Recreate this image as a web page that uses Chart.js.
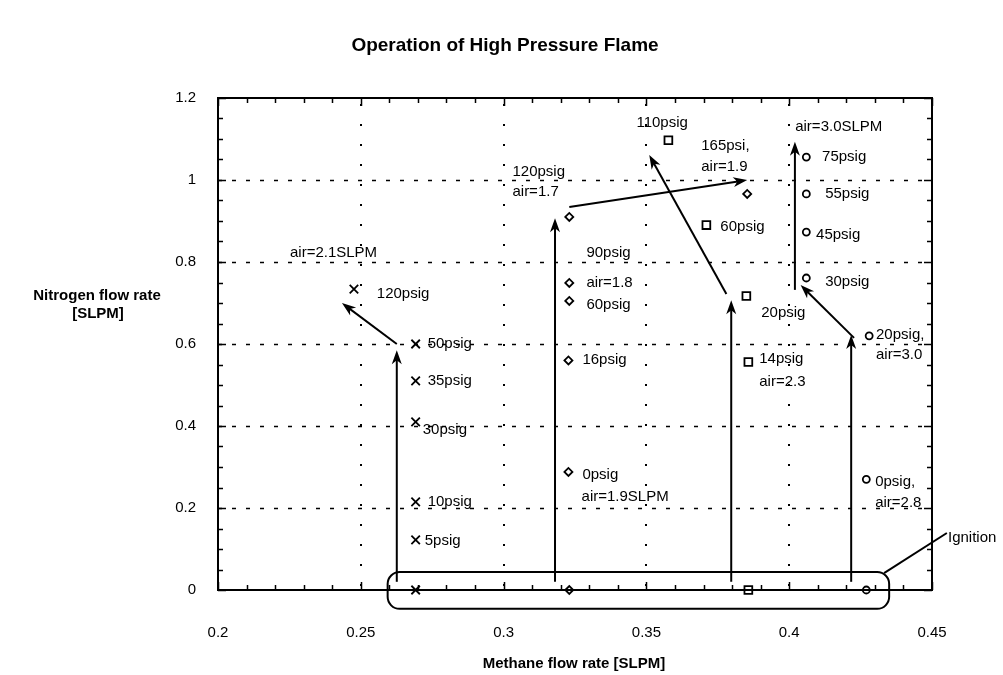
<!DOCTYPE html>
<html>
<head>
<meta charset="utf-8">
<title>Operation of High Pressure Flame</title>
<script src="https://cdn.jsdelivr.net/npm/chart.js@4/dist/chart.umd.min.js"></script>
<style>
  html, body { margin: 0; padding: 0; background: #fff; }
  #wrap { width: 1003px; height: 675px; position: relative; }
</style>
</head>
<body>
<div id="wrap"><canvas id="chartFlame"></canvas></div>
<script>
// axis ticks
const xTicks = [0.2, 0.25, 0.3, 0.35, 0.4, 0.45];
const yTicks = [0, 0.2, 0.4, 0.6, 0.8, 1, 1.2];

// air = 2.1 SLPM (x markers)
const crossX = [0.2476, 0.2692, 0.2692, 0.2692, 0.2692, 0.2692, 0.2692];
const crossY = [0.734, 0.600, 0.510, 0.410, 0.215, 0.122, 0];

// diamonds
const diamondX = [0.3230, 0.3230, 0.3230, 0.3227, 0.3227, 0.3230, 0.3853];
const diamondY = [0.910, 0.749, 0.705, 0.560, 0.288, 0, 0.966];

// squares
const squareX = [0.3577, 0.3710, 0.3850, 0.3857, 0.3857];
const squareY = [1.097, 0.890, 0.717, 0.556, 0];

// circles
const circleX = [0.4060, 0.4060, 0.4060, 0.4060, 0.4280, 0.4270, 0.4270];
const circleY = [1.056, 0.966, 0.873, 0.761, 0.620, 0.270, 0];

// arrows: [x1, y1, x2, y2] in data units, head at the second point
const arrows = [
  [0.2626, 0.02, 0.2626, 0.585],
  [0.2626, 0.600, 0.2434, 0.700],
  [0.3180, 0.02, 0.3180, 0.907],
  [0.3230, 0.934, 0.3853, 1.000],
  [0.3797, 0.02, 0.3797, 0.707],
  [0.3780, 0.722, 0.3510, 1.061],
  [0.4217, 0.02, 0.4217, 0.622],
  [0.4227, 0.615, 0.4040, 0.744],
  [0.4020, 0.732, 0.4020, 1.093]
];

// text notes: [text, x, y] (left edge, middle) in data units
const notes = [
  ['air=2.1SLPM', 0.2252, 0.822],
  ['120psig', 0.2556, 0.722],
  ['50psig', 0.2734, 0.600],
  ['35psig', 0.2734, 0.510],
  ['30psig', 0.2717, 0.390],
  ['10psig', 0.2734, 0.215],
  ['5psig', 0.2724, 0.120],
  ['120psig', 0.3031, 1.020],
  ['air=1.7', 0.3031, 0.971],
  ['90psig', 0.3290, 0.822],
  ['air=1.8', 0.3290, 0.749],
  ['60psig', 0.3290, 0.695],
  ['16psig', 0.3276, 0.561],
  ['0psig', 0.3276, 0.280],
  ['air=1.9SLPM', 0.3273, 0.227],
  ['110psig', 0.3465, 1.139],
  ['165psi,', 0.3692, 1.083],
  ['air=1.9', 0.3692, 1.032],
  ['60psig', 0.3759, 0.885],
  ['20psig', 0.3902, 0.676],
  ['14psig', 0.3895, 0.563],
  ['air=2.3', 0.3895, 0.507],
  ['air=3.0SLPM', 0.4021, 1.129],
  ['75psig', 0.4115, 1.056],
  ['55psig', 0.4126, 0.966],
  ['45psig', 0.4094, 0.866],
  ['30psig', 0.4126, 0.751],
  ['20psig,', 0.4304, 0.622],
  ['air=3.0', 0.4304, 0.573],
  ['0psig,', 0.4301, 0.263],
  ['air=2.8', 0.4301, 0.212],
  ['Ignition', 0.4556, 0.127]
];

// ignition box [xMin, yMax, xMax, yMin] and its callout line
const ignitionBox = [0.2594, 0.044, 0.4350, -0.046];
const ignitionLine = [0.4332, 0.041, 0.4552, 0.139];

const FONT = '"Liberation Sans", Arial, sans-serif';

function pts(xs, ys) {
  return xs.map((x, i) => ({ x: x, y: ys[i] }));
}

function drawArrow(ctx, x1, y1, x2, y2) {
  const a = Math.atan2(y2 - y1, x2 - x1);
  const len = 14, half = 5;
  ctx.beginPath();
  ctx.moveTo(x1, y1);
  ctx.lineTo(x2 - Math.cos(a) * 6, y2 - Math.sin(a) * 6);
  ctx.stroke();
  ctx.save();
  ctx.translate(x2, y2);
  ctx.rotate(a);
  ctx.beginPath();
  ctx.moveTo(0, 0);
  ctx.lineTo(-len, -half);
  ctx.lineTo(-len + 4, 0);
  ctx.lineTo(-len, half);
  ctx.closePath();
  ctx.fill();
  ctx.restore();
}

// frame, dotted grid and inward ticks
const framePlugin = {
  id: 'frame',
  beforeDatasetsDraw(chart) {
    const { ctx, chartArea: a, scales: { x, y } } = chart;
    ctx.save();
    ctx.strokeStyle = '#000';

    // horizontal grid, dashed
    ctx.lineWidth = 1.5;
    ctx.setLineDash([4, 10]);
    yTicks.slice(1, -1).forEach(v => {
      const py = Math.round(y.getPixelForValue(v)) + 0.5;
      ctx.beginPath(); ctx.moveTo(a.left, py); ctx.lineTo(a.right, py); ctx.stroke();
    });
    // vertical grid, dotted
    ctx.lineWidth = 2;
    ctx.setLineDash([2, 18]);
    xTicks.slice(1, -1).forEach(v => {
      const px = Math.round(x.getPixelForValue(v));
      ctx.beginPath(); ctx.moveTo(px, a.bottom - 4); ctx.lineTo(px, a.top); ctx.stroke();
    });
    ctx.setLineDash([]);

    // minor + major ticks, pointing inward on all four sides
    ctx.lineWidth = 1.5;
    for (let i = 0; i <= 25; i++) {
      const px = Math.round(x.getPixelForValue(0.2 + i * 0.01)) + 0.5;
      const l = i % 5 === 0 ? 8 : 5;
      ctx.beginPath();
      ctx.moveTo(px, a.bottom); ctx.lineTo(px, a.bottom - l);
      ctx.moveTo(px, a.top); ctx.lineTo(px, a.top + l);
      ctx.stroke();
    }
    for (let i = 0; i <= 24; i++) {
      const py = Math.round(y.getPixelForValue(i * 0.05)) + 0.5;
      const l = i % 4 === 0 ? 8 : 5;
      ctx.beginPath();
      ctx.moveTo(a.left, py); ctx.lineTo(a.left + l, py);
      ctx.moveTo(a.right, py); ctx.lineTo(a.right - l, py);
      ctx.stroke();
    }

    // border
    ctx.lineWidth = 2;
    ctx.strokeRect(a.left, a.top, a.right - a.left, a.bottom - a.top);
    ctx.restore();
  },

  afterDatasetsDraw(chart) {
    const { ctx, scales: { x, y } } = chart;
    ctx.save();
    ctx.strokeStyle = '#000';
    ctx.fillStyle = '#000';
    ctx.lineWidth = 2;

    arrows.forEach(r => {
      drawArrow(ctx, x.getPixelForValue(r[0]), y.getPixelForValue(r[1]),
        x.getPixelForValue(r[2]), y.getPixelForValue(r[3]));
    });

    // ignition box
    const bx1 = x.getPixelForValue(ignitionBox[0]);
    const by1 = y.getPixelForValue(ignitionBox[1]);
    const bx2 = x.getPixelForValue(ignitionBox[2]);
    const by2 = y.getPixelForValue(ignitionBox[3]);
    const r = 12;
    ctx.beginPath();
    ctx.moveTo(bx1 + r, by1);
    ctx.arcTo(bx2, by1, bx2, by2, r);
    ctx.arcTo(bx2, by2, bx1, by2, r);
    ctx.arcTo(bx1, by2, bx1, by1, r);
    ctx.arcTo(bx1, by1, bx2, by1, r);
    ctx.closePath();
    ctx.stroke();

    ctx.beginPath();
    ctx.moveTo(x.getPixelForValue(ignitionLine[0]), y.getPixelForValue(ignitionLine[1]));
    ctx.lineTo(x.getPixelForValue(ignitionLine[2]), y.getPixelForValue(ignitionLine[3]));
    ctx.stroke();

    // notes
    ctx.font = '15px ' + FONT;
    ctx.textAlign = 'left';
    ctx.textBaseline = 'middle';
    notes.forEach(n => {
      ctx.fillText(n[0], x.getPixelForValue(n[1]), y.getPixelForValue(n[2]));
    });

    // titles
    ctx.textAlign = 'center';
    ctx.font = 'bold 19px ' + FONT;
    ctx.fillText('Operation of High Pressure Flame', 505, 46);
    ctx.font = 'bold 15px ' + FONT;
    ctx.fillText('Methane flow rate [SLPM]', 574, 664);
    ctx.fillText('Nitrogen flow rate', 97, 296);
    ctx.fillText('[SLPM]', 98, 314);
    ctx.restore();
  }
};

function fmt(v) {
  return String(Number(v.toFixed(2)));
}

const ctx = document.getElementById('chartFlame').getContext('2d');
const chart = new Chart(ctx, {
  type: 'scatter',
  data: {
    datasets: [
      { label: 'x', data: pts(crossX, crossY), pointStyle: 'crossRot', pointRadius: 6, borderWidth: 1.8 },
      { label: 'diamond', data: pts(diamondX, diamondY), pointStyle: 'rectRot', pointRadius: 4, borderWidth: 1.8 },
      { label: 'square', data: pts(squareX, squareY), pointStyle: 'rect', pointRadius: 5.5, borderWidth: 1.8 },
      { label: 'circle', data: pts(circleX, circleY), pointStyle: 'circle', pointRadius: 3.5, borderWidth: 1.8 }
    ].map(d => Object.assign(d, { borderColor: '#000', backgroundColor: 'rgba(0,0,0,0)', showLine: false, clip: false }))
  },
  options: {
    responsive: true,
    maintainAspectRatio: false,
    animation: false,
    events: [],
    layout: { padding: { top: 98, right: 71, left: 0, bottom: 0 } },
    plugins: {
      legend: { display: false },
      tooltip: { enabled: false },
      title: { display: false }
    },
    scales: {
      x: {
        type: 'linear',
        min: 0.2,
        max: 0.45,
        afterFit: s => { s.height = 85; },
        afterBuildTicks: s => { s.ticks = xTicks.map(v => ({ value: v })); },
        ticks: { color: '#000', padding: 34, maxRotation: 0, font: { size: 15, family: FONT }, callback: fmt },
        grid: { display: false, drawTicks: false },
        border: { display: false }
      },
      y: {
        type: 'linear',
        min: 0,
        max: 1.2,
        afterFit: s => { s.width = 218; },
        afterBuildTicks: s => { s.ticks = yTicks.map(v => ({ value: v })); },
        ticks: { color: '#000', padding: 22, font: { size: 15, family: FONT }, callback: fmt },
        grid: { display: false, drawTicks: false },
        border: { display: false }
      }
    }
  },
  plugins: [framePlugin]
});
</script>
</body>
</html>
